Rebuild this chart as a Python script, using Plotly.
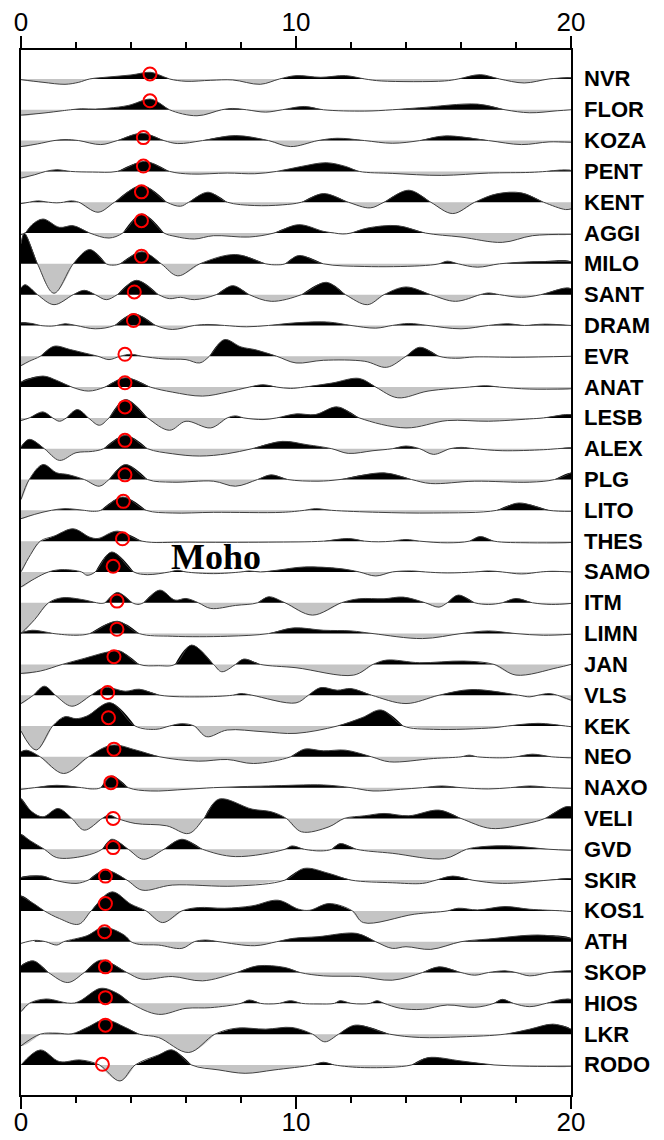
import plotly.graph_objects as go

# ---------------- data (time in s, amplitude in arbitrary RF units) ----------------
STATIONS = ["NVR", "FLOR", "KOZA", "PENT", "KENT", "AGGI", "MILO", "SANT", "DRAM", "EVR",
            "ANAT", "LESB", "ALEX", "PLG", "LITO", "THES", "SAMO", "ITM", "LIMN", "JAN",
            "VLS", "KEK", "NEO", "NAXO", "VELI", "GVD", "SKIR", "KOS1", "ATH", "SKOP",
            "HIOS", "LKR", "RODO"]

NVR = [(0, -0.02), (0.8, -0.1), (1.6, -0.16), (2.1, -0.1), (2.5, 0), (3.2, 0.06), (4.0, 0.12), (4.7, 0.2),
       (5.0, 0.13), (5.4, 0), (6.0, -0.07), (6.9, -0.04), (7.7, -0.03), (8.7, -0.16), (9.4, 0), (10.0, 0.1),
       (10.9, 0.05), (11.8, 0.1), (12.5, 0), (13.1, -0.06), (15.4, -0.06), (15.9, 0), (16.7, 0.13), (17.4, 0),
       (18.3, -0.12), (19.2, 0), (20, 0.04)]
FLOR = [(0, -0.16), (0.8, -0.1), (1.5, -0.03), (1.8, 0), (2.2, 0.03), (2.7, 0.02), (3.2, 0.05), (3.9, 0.13),
        (4.7, 0.32), (5.0, 0.22), (5.4, 0), (6.4, -0.18), (7.3, 0), (7.7, 0.04), (8.2, 0), (8.9, -0.07), (9.5, 0),
        (10.3, 0.1), (11.0, 0), (12.5, -0.04), (13.5, 0), (14.5, 0.06), (16.6, 0.17), (17.6, 0), (18.5, -0.09),
        (19.5, -0.03), (20, 0)]
KOZA = [(0, -0.18), (0.6, -0.1), (1.2, 0), (1.6, 0.03), (2.1, 0), (2.9, -0.12), (3.5, 0), (4.4, 0.22), (5.2, 0),
        (5.7, -0.09), (6.6, 0), (7.8, 0.15), (9.0, 0), (9.8, -0.18), (10.8, 0), (11.5, 0.07), (12.5, 0),
        (13.5, -0.08), (14.5, 0), (15.4, 0.14), (17.0, 0), (18.2, -0.12), (19.2, -0.04), (20, -0.05)]
PENT = [(0, -0.2), (0.5, -0.1), (0.9, 0), (1.3, 0.05), (1.8, 0), (2.6, -0.02), (3.5, 0), (4.5, 0.3), (5.4, 0),
        (6.2, -0.08), (7.5, -0.05), (8.5, -0.07), (9.3, 0), (10.2, 0.15), (11.1, 0.26), (11.8, 0.15), (12.3, 0),
        (13.5, -0.06), (15.3, -0.12), (17.0, -0.05), (18.5, -0.03), (19.1, 0), (19.6, 0.04), (20, 0.03)]
KENT = [(0, -0.04), (0.3, 0), (0.6, 0.04), (1.0, 0), (1.3, -0.02), (1.55, 0), (1.8, 0.04), (2.1, 0), (2.8, -0.3),
        (3.4, 0), (4.4, 0.5), (5.3, 0), (5.8, -0.12), (6.1, 0), (6.8, 0.3), (7.5, 0), (8.5, -0.1), (9.5, -0.08),
        (10.2, 0), (11.0, 0.26), (11.9, 0), (12.7, -0.17), (13.2, 0), (14.1, 0.36), (14.9, 0), (15.7, -0.34),
        (16.5, 0), (17.3, 0.25), (18.2, 0.28), (19.0, 0), (19.8, -0.22), (20, -0.2)]
AGGI = [(0, -0.05), (0.15, 0), (0.4, 0.25), (0.8, 0.42), (1.4, 0.17), (1.9, 0.22), (2.5, 0), (3.2, -0.15),
        (3.7, 0), (4.4, 0.57), (5.2, 0), (5.6, -0.1), (6.3, -0.18), (7.0, -0.08), (8.3, -0.12), (9.2, 0),
        (10.1, 0.25), (11.0, 0.05), (11.4, 0), (11.7, -0.03), (12.0, 0), (12.6, 0.15), (13.7, 0.22), (14.7, 0),
        (16.0, -0.12), (17.5, -0.28), (18.6, -0.08), (20, -0.04)]
MILO = [(0, 0.6), (0.12, 0.92), (0.6, 0), (1.2, -0.88), (1.9, 0), (2.5, 0.43), (3.1, 0), (3.35, -0.04), (3.6, 0),
        (4.4, 0.36), (5.1, 0), (5.7, -0.36), (6.5, 0), (7.8, 0.28), (8.9, 0), (9.3, -0.03), (9.6, 0), (10.1, 0.25),
        (11.0, 0), (12.5, -0.08), (14.5, -0.06), (15.2, 0), (15.5, 0.08), (15.9, 0), (16.6, -0.1), (17.4, 0),
        (18.5, 0.06), (20, 0.07)]
SANT = [(0, 0.2), (0.15, 0.3), (0.6, 0), (1.2, -0.3), (1.9, 0), (2.3, 0.13), (2.7, 0), (3.1, -0.15), (3.5, 0),
        (4.2, 0.43), (5.0, 0), (5.4, -0.12), (5.8, -0.08), (6.3, -0.15), (7.1, 0), (7.7, 0.27), (8.3, 0),
        (9.1, -0.2), (10.2, 0), (11.1, 0.37), (11.8, 0), (12.6, -0.3), (13.2, 0), (14.0, 0.23), (14.9, 0),
        (15.8, -0.2), (16.7, 0), (17.0, 0.05), (17.4, 0), (18.2, -0.08), (18.9, 0), (19.8, 0.2), (20, 0.18)]
DRAM = [(0, 0.08), (0.4, 0.06), (0.7, 0), (1.1, -0.02), (1.3, 0), (1.6, 0.05), (2.0, 0), (2.7, -0.1), (3.4, 0),
        (4.1, 0.35), (4.9, 0), (5.5, -0.12), (6.3, 0), (6.8, 0.03), (7.4, 0), (8.2, -0.04), (9.0, 0), (10.0, 0.08),
        (11.2, 0.1), (12.0, 0), (12.9, -0.08), (13.5, 0), (14.1, 0.06), (14.8, 0), (16.0, -0.1), (17.0, 0),
        (17.7, 0.05), (18.3, 0), (19.0, 0.04), (20, 0)]
EVR = [(0, -0.28), (0.3, -0.15), (0.7, 0), (1.2, 0.3), (1.8, 0.2), (2.3, 0.1), (2.8, 0), (3.2, -0.1), (3.6, 0),
       (4.0, 0.06), (4.4, 0), (5.2, -0.08), (6.0, -0.1), (6.5, -0.2), (6.85, 0), (7.4, 0.5), (8.0, 0.28),
       (8.5, 0.2), (9.3, 0), (10.0, -0.2), (11.0, -0.12), (12.5, -0.15), (13.3, -0.33), (14.0, 0), (14.5, 0.27),
       (15.2, 0), (15.8, -0.06), (16.5, -0.02), (18.0, -0.03), (20, 0)]
ANAT = [(0, 0.15), (0.8, 0.33), (1.3, 0.2), (1.85, 0), (2.45, -0.12), (3.05, 0), (3.8, 0.28), (4.7, 0),
        (5.5, -0.15), (6.6, -0.27), (7.5, -0.15), (8.3, 0), (8.8, 0.07), (9.3, 0), (9.8, -0.04), (10.3, 0),
        (11.3, 0.12), (12.3, 0.26), (12.9, 0), (13.7, -0.32), (14.8, -0.12), (16.3, 0), (16.9, 0.04), (17.4, 0),
        (18.5, -0.06), (20, -0.05)]
LESB = [(0, -0.08), (0.3, 0), (0.8, 0.18), (1.15, 0), (1.4, -0.1), (1.65, 0), (2.05, 0.25), (2.45, 0),
        (2.85, -0.22), (3.2, 0), (3.8, 0.55), (4.6, 0), (5.4, -0.37), (6.0, -0.1), (6.9, -0.3), (7.5, 0),
        (7.8, 0.06), (8.1, 0), (8.8, -0.05), (9.3, 0), (10.0, 0.12), (10.7, 0.1), (11.5, 0.33), (12.3, 0),
        (14.0, -0.3), (15.5, -0.08), (17.0, -0.1), (18.5, -0.03), (19.0, 0), (19.8, 0.1), (20, 0.1)]
ALEX = [(0, 0.05), (0.3, 0.28), (0.85, 0), (1.4, -0.35), (2.0, -0.12), (2.6, -0.08), (3.0, 0), (3.8, 0.4),
        (4.6, 0), (5.5, -0.15), (6.5, -0.22), (7.5, -0.15), (8.4, 0), (9.5, 0.22), (10.4, 0.12), (11.3, 0),
        (11.9, -0.14), (12.8, -0.06), (13.5, 0), (14.0, 0.08), (14.5, 0), (15.0, -0.17), (15.6, 0), (16.0, 0.04),
        (16.5, 0), (17.5, -0.06), (19.0, -0.03), (19.5, 0), (20, 0.03)]
PLG = [(0, -0.6), (0.3, 0), (0.8, 0.45), (1.3, 0.2), (1.7, 0.15), (2.3, 0), (2.85, -0.2), (3.2, 0), (3.8, 0.45),
       (4.6, 0), (5.5, -0.08), (7.0, -0.05), (7.8, -0.2), (8.6, 0), (9.1, 0.14), (9.7, 0), (10.8, -0.05),
       (11.6, 0), (13.2, 0.2), (14.2, 0), (14.9, -0.12), (16.5, -0.05), (18.5, -0.08), (19.4, 0), (20, 0.2)]
LITO = [(0, -0.25), (0.5, -0.12), (1.1, 0), (1.6, 0.05), (2.3, 0), (2.6, -0.03), (2.9, 0), (3.7, 0.4),
        (4.55, 0), (5.5, -0.08), (7.0, -0.06), (9.5, -0.06), (10.3, 0), (10.7, 0.05), (11.3, 0), (13.0, -0.06),
        (15.0, -0.08), (17.3, 0), (18.1, 0.22), (19.2, 0), (20, -0.03)]
THES = [(0, -0.92), (0.35, -0.4), (0.7, 0), (1.2, 0.15), (1.9, 0.37), (2.5, 0.12), (2.8, 0.08), (3.5, 0.3),
        (4.4, 0), (6.0, -0.03), (9.0, -0.03), (11.0, 0), (11.9, 0.08), (12.5, 0), (13.0, -0.02), (13.5, 0),
        (14.0, 0.05), (14.5, 0), (15.5, -0.05), (16.3, 0), (16.7, 0.14), (17.2, 0), (18.5, -0.05), (20, -0.04)]
SAMO = [(0, -0.45), (0.5, -0.2), (1.0, 0), (1.5, 0.07), (2.2, 0), (2.4, -0.1), (2.7, 0), (3.3, 0.6), (4.1, 0),
        (4.6, -0.08), (5.4, 0), (5.7, 0.05), (6.0, 0), (7.0, -0.05), (8.0, 0), (8.3, 0.03), (8.7, 0),
        (9.3, 0.05), (10.3, 0.15), (11.6, 0.1), (12.3, 0), (12.9, -0.12), (13.5, 0), (14.2, 0.03), (14.7, 0),
        (15.5, -0.03), (16.5, 0), (17.0, 0.03), (17.5, 0), (18.2, -0.06), (18.9, 0), (19.3, 0.02), (20, 0)]
ITM = [(0, -0.92), (0.5, -0.5), (1.0, 0), (1.5, 0.15), (2.2, 0.1), (2.75, 0), (2.9, -0.02), (3.05, 0),
       (3.5, 0.31), (4.05, 0), (4.25, -0.05), (4.45, 0), (5.05, 0.38), (5.6, 0.08), (6.0, 0.13), (6.45, 0),
       (6.9, -0.17), (7.8, -0.08), (8.6, 0), (9.0, 0.18), (9.6, 0), (10.6, -0.37), (11.65, 0), (12.3, 0.12),
       (13.2, 0.12), (13.9, 0.17), (14.7, 0), (15.2, -0.13), (15.5, 0), (15.9, 0.23), (16.5, 0), (17.0, -0.05),
       (17.5, 0), (18.0, 0.13), (18.6, 0), (19.3, -0.05), (20, -0.02)]
LIMN = [(0, 0.02), (0.4, 0.1), (1.0, 0.03), (1.2, 0), (2.0, -0.05), (2.5, 0), (3.5, 0.37), (4.3, 0),
        (5.5, -0.08), (7.5, -0.08), (9.0, 0), (9.9, 0.17), (11.0, 0.1), (12.0, 0.08), (12.8, 0), (14.6, -0.15),
        (16.0, 0), (17.0, 0.08), (18.0, 0), (19.0, -0.05), (20, -0.02)]
JAN = [(0, -0.27), (0.7, -0.2), (1.5, 0), (2.3, 0.18), (3.2, 0.38), (3.6, 0.4), (4.3, 0), (5.0, -0.04),
       (5.6, 0), (6.2, 0.58), (7.0, 0), (7.3, -0.22), (7.8, 0), (8.1, 0.16), (8.7, 0), (10.0, -0.1),
       (12.1, -0.32), (12.8, 0), (13.3, 0.13), (14.5, 0.05), (16.1, 0.1), (17.2, 0), (18.0, -0.32),
       (19.5, -0.1), (20, 0)]
VLS = [(0, -0.25), (0.45, 0), (0.85, 0.27), (1.25, 0), (1.85, -0.33), (2.55, 0), (3.05, 0.23), (3.8, 0.12),
       (4.3, 0.18), (5.05, 0), (6.5, -0.05), (7.7, 0), (8.0, 0.05), (8.4, 0), (10.0, -0.23), (10.45, 0),
       (10.9, 0.23), (11.5, 0.15), (12.0, 0.2), (12.75, 0), (14.0, -0.25), (15.2, 0), (16.4, 0.17), (18.1, 0),
       (18.5, -0.05), (18.8, 0), (19.2, 0.05), (19.5, 0), (20, -0.15)]
KEK = [(0, -0.15), (0.55, -0.72), (1.15, 0), (1.6, 0.28), (2.0, 0.22), (2.4, 0.3), (3.25, 0.7), (4.15, 0),
       (4.9, -0.1), (5.4, 0), (5.85, 0.07), (6.3, 0), (6.75, -0.32), (7.5, -0.12), (8.8, -0.17), (10.0, -0.22),
       (11.5, 0), (12.4, 0.25), (13.1, 0.48), (13.9, 0), (15.0, -0.1), (17.2, -0.05), (17.7, 0), (18.8, 0.08),
       (19.8, 0), (20, -0.02)]
NEO = [(0, 0.15), (0.2, 0.2), (0.7, 0), (1.55, -0.5), (2.45, 0), (3.3, 0.35), (4.2, 0.2), (5.05, 0),
       (6.45, -0.13), (7.5, -0.08), (8.45, -0.2), (9.8, 0), (10.3, 0.23), (11.0, 0.18), (11.8, 0.2), (12.75, 0),
       (13.4, -0.15), (15.0, -0.05), (16.0, 0), (16.3, 0.05), (16.6, 0), (17.5, -0.03), (18.0, 0), (18.6, 0.08),
       (19.3, 0), (20, -0.03)]
NAXO = [(0, -0.05), (0.5, 0), (1.3, 0.07), (2.2, 0), (2.6, -0.04), (2.9, 0), (3.3, 0.35), (3.9, 0),
        (4.7, -0.1), (6.0, -0.05), (7.0, 0), (8.0, 0.03), (9.0, 0.05), (11.0, 0.08), (12.0, 0), (12.8, -0.1),
        (13.8, -0.05), (14.6, 0), (15.3, 0.05), (16.0, 0), (17.0, -0.04), (17.8, 0), (18.5, 0.05), (19.3, 0),
        (20, -0.02)]
VELI = [(0, 0.6), (0.4, 0.2), (0.8, 0.05), (1.35, 0.3), (1.85, 0), (2.3, -0.35), (2.95, 0), (3.2, 0.1),
        (3.5, 0), (4.15, -0.15), (5.3, -0.22), (6.1, -0.45), (6.65, 0), (7.2, 0.58), (8.4, 0.28), (9.1, 0.2),
        (9.65, 0), (10.2, -0.4), (11.2, -0.25), (11.75, 0), (12.5, 0.08), (13.2, 0.15), (14.1, 0.08),
        (15.2, 0.25), (16.0, 0), (17.1, -0.3), (18.4, -0.15), (19.05, 0), (19.8, 0.35), (20, 0.35)]
GVD = [(0, 0.45), (0.35, 0.25), (0.85, 0), (1.3, -0.25), (2.3, -0.2), (2.95, 0), (3.3, 0.3), (3.9, 0),
       (4.45, -0.3), (5.2, 0), (5.85, 0.3), (6.6, 0), (7.8, -0.22), (9.6, 0), (9.85, 0.1), (10.3, 0),
       (10.9, -0.05), (11.3, 0), (11.6, 0.17), (12.2, 0), (13.5, -0.12), (15.4, -0.28), (16.2, 0), (16.8, 0.08),
       (17.8, 0.1), (19.2, 0), (20, -0.03)]
SKIR = [(0, 0.08), (0.8, 0.12), (1.2, 0), (2.0, -0.1), (2.45, 0), (3.05, 0.3), (3.85, 0), (4.4, -0.3),
        (5.5, -0.15), (7.8, -0.18), (9.6, 0), (10.3, 0.35), (11.2, 0.2), (12.0, 0), (13.5, -0.08),
        (14.6, -0.1), (15.1, 0), (15.7, 0.12), (16.4, 0), (17.5, -0.1), (19.2, 0), (20, 0.05)]
KOS1 = [(0, 0.45), (0.5, 0.2), (0.85, 0), (1.4, -0.23), (2.1, -0.4), (2.55, 0), (3.3, 0.57), (4.0, 0.2),
        (4.55, 0), (5.15, -0.35), (5.85, 0), (6.45, 0.1), (7.4, 0.08), (8.4, 0.15), (9.35, 0.32), (10.1, 0.05),
        (10.5, 0.02), (11.2, 0.22), (12.05, 0), (12.45, -0.35), (14.3, -0.1), (15.5, 0), (15.9, 0.08),
        (16.6, 0.03), (17.6, 0.13), (18.5, 0.05), (19.7, 0), (20, -0.02)]
ATH = [(0, -0.05), (0.5, 0.04), (0.9, 0), (1.3, -0.1), (1.55, 0), (2.4, 0.18), (3.0, 0.43), (3.75, 0.2),
       (4.0, 0), (4.3, -0.08), (5.0, -0.1), (5.85, -0.2), (6.3, 0), (6.7, 0.05), (7.2, 0), (8.5, -0.12), (9.3, 0),
       (9.9, 0.1), (10.8, 0.15), (12.2, 0.25), (12.9, 0), (13.5, -0.2), (14.0, -0.15), (14.9, -0.23), (16.0, 0),
       (17.0, 0.08), (18.8, 0.2), (20, 0.1)]
SKOP = [(0, 0.2), (0.45, 0.35), (1.0, 0), (1.7, -0.3), (2.3, 0), (2.9, 0.37), (3.85, 0), (4.4, -0.2),
        (5.5, -0.12), (6.6, -0.25), (7.85, 0), (8.6, 0.2), (9.6, 0.15), (10.15, 0), (11.0, -0.1), (12.3, -0.12),
        (13.5, -0.23), (14.6, 0), (15.2, 0.17), (16.0, 0), (16.5, -0.08), (17.0, 0), (17.6, 0.05), (18.0, 0),
        (18.5, -0.1), (19.2, 0), (19.8, 0.05), (20, 0.05)]
HIOS = [(0, -0.25), (0.3, 0), (0.9, 0.13), (1.95, 0.01), (2.9, 0.45), (3.5, 0.3), (4.0, 0), (5.0, -0.33),
        (6.0, -0.15), (6.9, -0.13), (8.0, 0), (8.3, 0.1), (8.7, 0), (9.0, -0.02), (9.4, 0), (9.8, 0.08),
        (10.2, 0), (10.8, -0.02), (11.4, 0), (11.6, 0.08), (12.0, 0), (12.4, -0.02), (12.7, 0), (12.95, 0.08),
        (13.2, 0), (13.8, -0.15), (14.6, -0.18), (15.5, -0.05), (16.5, -0.12), (17.2, 0), (17.5, 0.12),
        (17.9, 0), (18.5, -0.1), (19.1, 0), (19.7, 0.12), (20, 0.12)]
LKR = [(0, -0.35), (0.7, 0), (1.3, 0.03), (1.85, 0.01), (2.4, 0.2), (3.05, 0.43), (3.8, 0.2), (4.3, 0),
       (5.0, -0.1), (6.1, -0.55), (7.05, 0), (7.85, 0.18), (8.9, 0.15), (9.85, 0.2), (10.6, 0), (11.05, -0.23),
       (11.55, 0), (12.15, 0.27), (13.4, 0), (14.5, -0.1), (16.0, -0.08), (17.6, 0), (18.5, 0.15), (19.35, 0.3),
       (20, 0.15)]
RODO = [(0, 0), (0.7, 0.45), (1.4, 0.1), (2.15, 0.15), (2.85, 0), (3.6, -0.48), (4.15, 0), (5.0, 0.3),
        (5.5, 0.45), (6.2, 0), (7.2, -0.15), (8.15, -0.25), (9.2, -0.15), (10.6, 0), (11.0, 0.08), (11.4, 0),
        (12.5, -0.08), (14.2, 0), (14.8, 0.22), (16.0, 0.12), (17.2, 0), (18.5, -0.04), (20, -0.04)]

TRACES = [NVR, FLOR, KOZA, PENT, KENT, AGGI, MILO, SANT, DRAM, EVR, ANAT, LESB, ALEX, PLG, LITO, THES,
          SAMO, ITM, LIMN, JAN, VLS, KEK, NEO, NAXO, VELI, GVD, SKIR, KOS1, ATH, SKOP, HIOS, LKR, RODO]

# Moho Ps arrival picks (time, amplitude on trace)
MOHO_T = [4.69, 4.69, 4.45, 4.45, 4.38, 4.38, 4.38, 4.12, 4.09, 3.78, 3.78, 3.78, 3.78, 3.78, 3.72, 3.69,
          3.35, 3.49, 3.49, 3.38, 3.15, 3.18, 3.38, 3.27, 3.35, 3.35, 3.07, 3.07, 3.04, 3.07, 3.07, 3.07, 2.96]
MOHO_A = [0.15, 0.27, 0.09, 0.16, 0.31, 0.37, 0.23, 0.08, 0.15, 0.06, 0.13, 0.33, 0.25, 0.14, 0.27, 0.07,
          0.17, 0.05, 0.13, 0.23, 0.08, 0.25, 0.23, 0.15, 0.0, 0.05, 0.12, 0.22, 0.3, 0.17, 0.17, 0.27, 0.02]

X_TICKS = [0, 10, 20]

# ---------------- style ----------------
GAIN = 1.083          # amplitude -> trace-spacing units
SPACING = 1.0
POS_COLOR = "black"
NEG_COLOR = "#c4c4c4"
LINE_COLOR = "#404040"


def lobes(pts, sign):
    """Split a trace into same-sign lobes bounded by its zero crossings."""
    segs, cur = [], []
    for i, (t, a) in enumerate(pts):
        if a * sign > 0:
            if not cur:
                if i > 0 and pts[i - 1][1] == 0:
                    cur = [pts[i - 1]]
                else:
                    cur = [(t, 0)]
            cur.append((t, a))
        else:
            if cur:
                cur.append((t, 0) if a == 0 else (cur[-1][0], 0))
                segs.append(cur)
                cur = []
    if cur:
        cur.append((cur[-1][0], 0))
        segs.append(cur)
    return segs


fig = go.Figure()

for sign, color in ((-1, NEG_COLOR), (1, POS_COLOR)):
    xs, ys = [], []
    for i, pts in enumerate(TRACES):
        off = -i * SPACING
        for seg in lobes(pts, sign):
            xs += [p[0] for p in seg] + [None]
            ys += [off + GAIN * p[1] for p in seg] + [None]
    fig.add_trace(go.Scatter(x=xs, y=ys, mode="lines", fill="toself", fillcolor=color,
                             line=dict(width=0, shape="spline", smoothing=1, color=color),
                             connectgaps=False, hoverinfo="skip", showlegend=False))

lx, ly = [], []
for i, pts in enumerate(TRACES):
    off = -i * SPACING
    lx += [p[0] for p in pts] + [None]
    ly += [off + GAIN * p[1] for p in pts] + [None]
fig.add_trace(go.Scatter(x=lx, y=ly, mode="lines", connectgaps=False,
                         line=dict(width=1, shape="spline", smoothing=1, color=LINE_COLOR),
                         hoverinfo="skip", showlegend=False))

fig.add_trace(go.Scatter(x=MOHO_T, y=[-i * SPACING + GAIN * a for i, a in enumerate(MOHO_A)],
                         mode="markers",
                         marker=dict(symbol="circle-open", size=13, color="#ff0000",
                                     line=dict(width=2, color="#ff0000")),
                         showlegend=False, hoverinfo="skip"))

# dummy trace to activate the top axis
fig.add_trace(go.Scatter(x=[0, 20], y=[0, 0], xaxis="x2", mode="markers",
                         marker=dict(opacity=0), showlegend=False, hoverinfo="skip"))

for i, name in enumerate(STATIONS):
    fig.add_annotation(x=1, xref="paper", xanchor="left", xshift=11, y=-i * SPACING, yref="y",
                       text="<b>%s</b>" % name, showarrow=False,
                       font=dict(family="Liberation Sans", size=22, color="black"))

fig.add_annotation(x=7.1, y=-15.53, xref="x", yref="y", text="<b>Moho</b>", showarrow=False,
                   font=dict(family="Liberation Serif", size=36, color="black"))

axis_common = dict(range=[0, 20], showgrid=False, zeroline=False, showline=True, linewidth=2,
                   linecolor="black", ticks="outside", tickvals=X_TICKS, ticklen=12, tickwidth=2,
                   tickcolor="black", automargin=False,
                   minor=dict(dtick=2, tick0=0, ticks="outside", ticklen=6, tickwidth=2, tickcolor="black"),
                   tickfont=dict(family="Liberation Sans", size=26, color="black"))

fig.update_layout(
    width=664, height=1140,
    margin=dict(l=21, r=93, t=50, b=45),
    paper_bgcolor="white", plot_bgcolor="white",
    xaxis=dict(side="bottom", anchor="y", ticklabelstandoff=-9, **axis_common),
    xaxis2=dict(side="top", overlaying="x", anchor="y", matches="x", ticklabelstandoff=-5, **axis_common),
    yaxis=dict(range=[-32.975, 0.94], showgrid=False, zeroline=False, showline=True, mirror=True,
               linewidth=2, linecolor="black", ticks="", showticklabels=False, automargin=False),
)

fig.write_html("out.html")
